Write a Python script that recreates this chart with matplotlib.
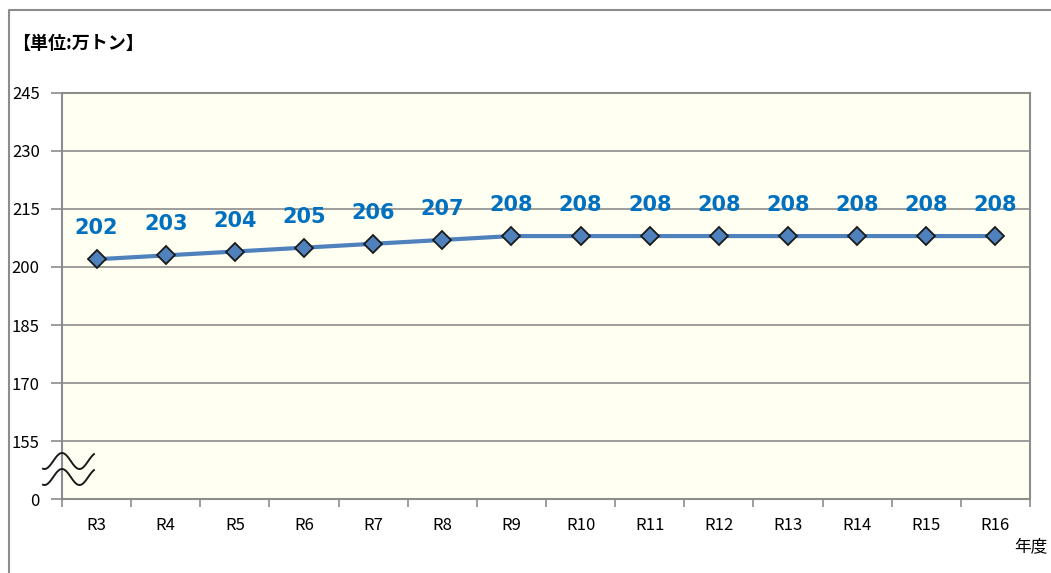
import numpy as np
import matplotlib.pyplot as plt
from matplotlib.lines import Line2D

plt.rcParams['font.family'] = ['Noto Sans CJK JP', 'DejaVu Sans']

years = ['R3', 'R4', 'R5', 'R6', 'R7', 'R8', 'R9', 'R10', 'R11', 'R12', 'R13', 'R14', 'R15', 'R16']
values = [202, 203, 204, 205, 206, 207, 208, 208, 208, 208, 208, 208, 208, 208]
yticks = [140, 155, 170, 185, 200, 215, 230, 245]
ytick_labels = ['0', '155', '170', '185', '200', '215', '230', '245']

fig = plt.figure(figsize=(10.51, 5.73), dpi=100)
ax = fig.add_axes([62 / 1051, 74 / 573, 968 / 1051, 406 / 573])
ax.set_facecolor('#FFFFF2')

x = np.arange(len(years))
ax.plot(x, values, color='#4F81BD', lw=3, marker='D', markersize=9,
        markerfacecolor='#4F81BD', markeredgecolor='#1a1a1a', markeredgewidth=1.3, zorder=3)
for xi, v in zip(x, values):
    ax.text(xi, v + 8, str(v), color='#0070C0', fontsize=15, fontweight='bold',
            ha='center', va='center', family='DejaVu Sans')

ax.set_xlim(-0.5, len(years) - 0.5)
ax.set_ylim(140, 245)
ax.set_yticks(yticks)
ax.set_yticklabels(ytick_labels, fontsize=12)
ax.yaxis.grid(True, color='#8c8c8c', lw=1.2)
ax.set_axisbelow(True)

ax.set_xticks(x)
ax.set_xticklabels(years, fontsize=12)
ax.set_xticks(np.arange(-0.5, len(years)), minor=True)
ax.tick_params(axis='x', which='major', length=0, pad=13)
ax.tick_params(axis='x', which='minor', length=6, color='#8c8c8c', width=1.2)
ax.tick_params(axis='y', length=8, color='#8c8c8c', width=1.2, pad=8)
for s in ax.spines.values():
    s.set_color('#8c8c8c')
    s.set_linewidth(1.5)

# axis break waves
px = np.linspace(43, 94, 100)
wx = px / 1051
for off in (0, 16):
    py = 461 + off - 8 * np.cos(2 * np.pi * (px - 62) / 35)
    fig.add_artist(Line2D(wx, (573 - py) / 573, color='#1a1a1a', lw=1.4))

# figure frame
fig.add_artist(Line2D([9 / 1051, 9 / 1051, 1], [0, 1 - 10 / 573, 1 - 10 / 573], color='#8c8c8c', lw=1.5))

fig.text(12 / 1051, 1 - 43 / 573, '【単位:万トン】', fontsize=13, fontweight='bold', va='center', ha='left')
fig.text(1031 / 1051, 1 - 547 / 573, '年度', fontsize=12, va='center', ha='center')

fig.savefig('out.png', dpi=100)
